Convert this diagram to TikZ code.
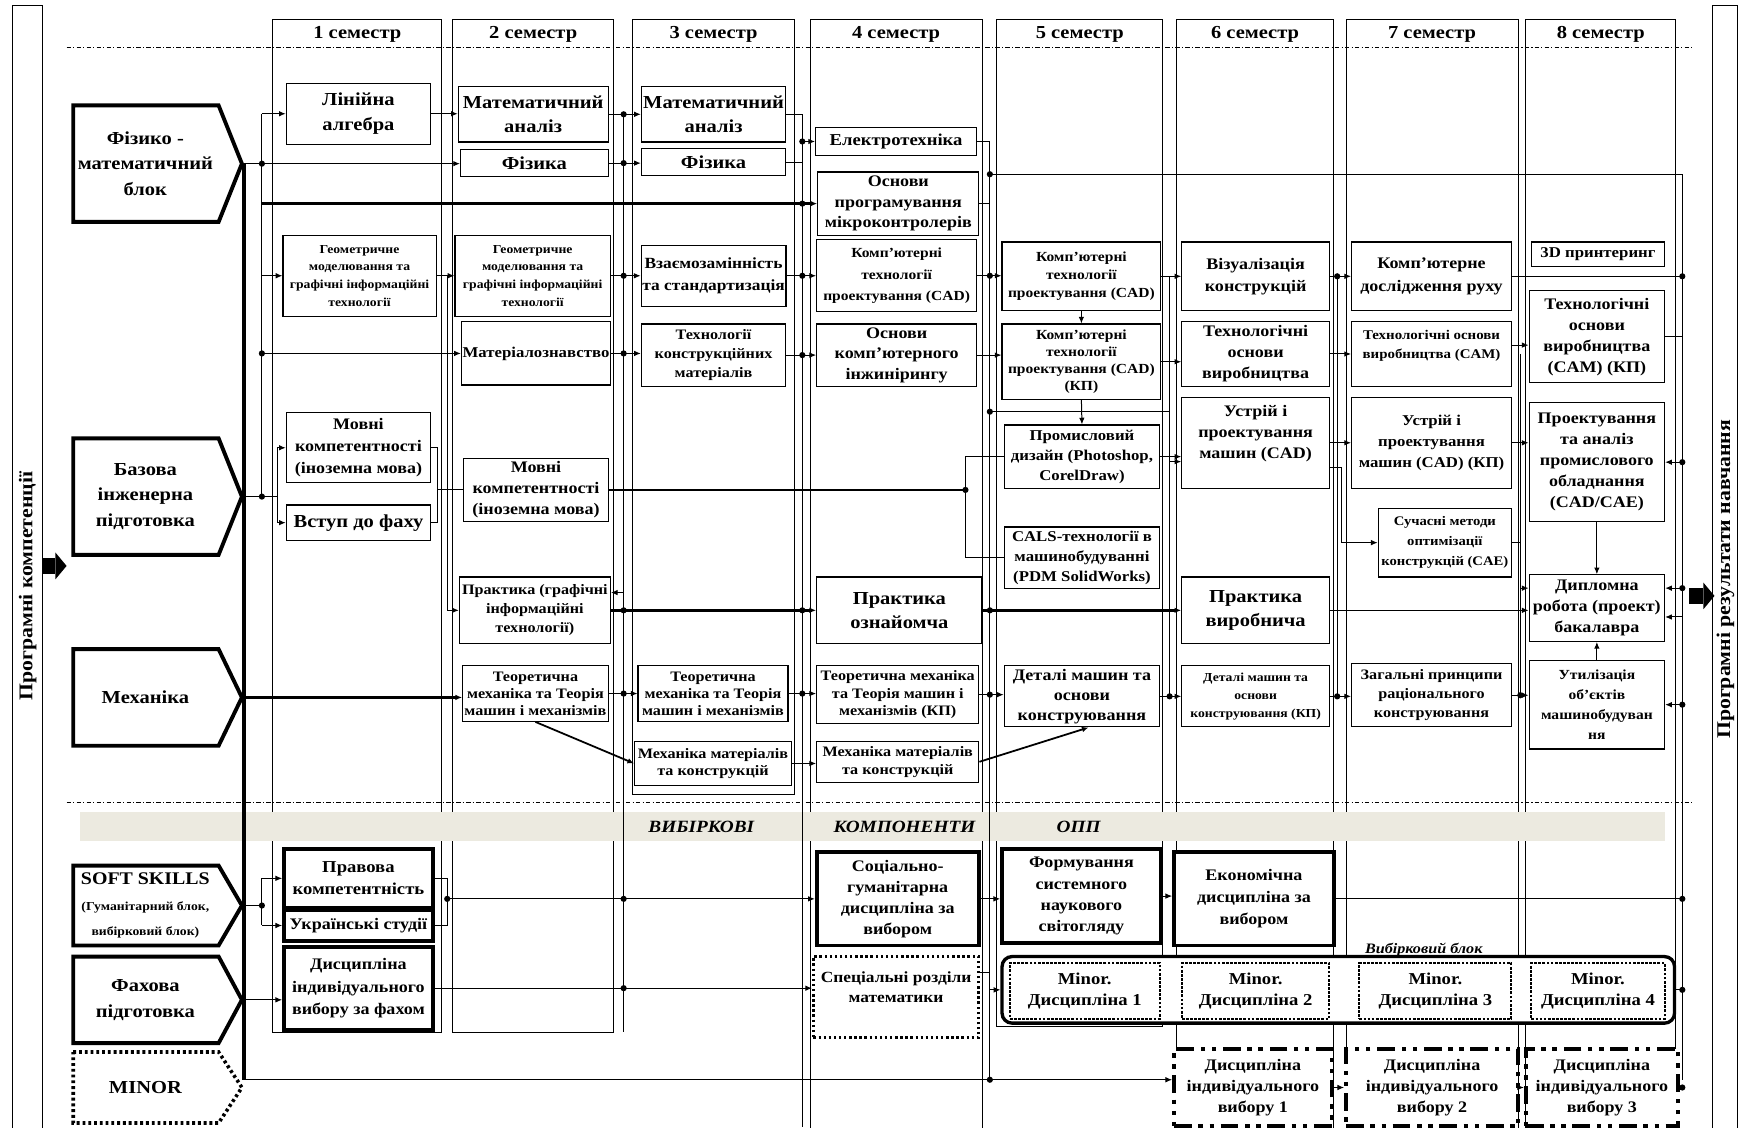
\documentclass[tikz,border=0pt]{standalone}
\usepackage{fontspec}
\setmainfont{Liberation Serif}[FakeStretch=1.12]
\usetikzlibrary{arrows.meta}
\definecolor{bandc}{RGB}{236,234,224}
\newcommand\myfs[2]{\fontsize{#1}{#2}\selectfont\bfseries}
\newcommand\bx[7]{%
 \pgfmathsetmacro\mybw{#4-#2}%
 \pgfmathsetmacro\mybh{#5-#3}%
 \pgfmathsetmacro\mycx{(#2+#4)/2}%
 \pgfmathsetmacro\mycy{(#3+#5)/2}%
 \node[bx,minimum width=\mybw pt,minimum height=\mybh pt,#6] (#1) at (\mycx,\mycy) {#7};}
\newcommand\lblk[5]{%
 \pgfmathsetmacro\mycy{(#2+#3)/2}%
 \draw[#4] (66,#2) -- (197,#2) -- (218,\mycy) -- (197,#3) -- (66,#3) -- cycle;
 \node[align=center,inner sep=0pt,font=\myfs{16.5}{23}] (#1) at (131,\mycy) {#5};
 \coordinate (#1T) at (218,\mycy);}
\newcommand\jd[1]{\fill (#1) circle (2.8pt);}
\begin{document}
\begin{tikzpicture}[x=1pt,y=-1pt,
 bx/.style={draw,fill=white,line width=1.1pt,inner sep=1pt,align=center,font=\myfs{14.5}{19}},
 thk/.style={line width=3.5pt},
 dotb/.style={line width=2.6pt,dash pattern=on 2.2pt off 2.4pt},
 mnb/.style={line width=1.8pt,dash pattern=on 2.5pt off 1.2pt,font=\myfs{15}{19}},
 ddb/.style={line width=3.5pt,dash pattern=on 16pt off 6pt on 4pt off 6pt on 4pt off 6pt,font=\myfs{14.5}{19}},
 lb/.style={line width=3.5pt,fill=white,line join=miter},
 lbdot/.style={line width=3.2pt,dash pattern=on 2.6pt off 2.6pt,fill=white},
 colf/.style={line width=0.9pt},
 sepl/.style={line width=0.8pt,dash pattern=on 4pt off 2pt on 1pt off 2pt},
 ln/.style={line width=0.9pt},
 lnm/.style={line width=1.6pt},
 tkl/.style={line width=2.2pt},
 arr/.style={-{Latex[length=6pt,width=5pt]}}]
\useasboundingbox (0,0) rectangle (1568,1016);
\fill[white] (0,0) rectangle (1568,1016);
% side bars
\draw[colf] (11,1020) -- (11,5) -- (38,5) -- (38,1020);
\draw[colf] (1543,1020) -- (1543,5) -- (1566,5) -- (1566,1020);
\node[rotate=90,font=\myfs{17.5}{19}] (lefttext) at (25,528) {Програмні компетенції};
\node[rotate=90,font=\myfs{17.5}{19}] (righttext) at (1555,522) {Програмні результати навчання};
\fill (38,503) rectangle (50,517);
\fill (50,498) -- (60,510) -- (50,522) -- cycle;
\fill (1522,530) rectangle (1535,544);
\fill (1535,525) -- (1545,537) -- (1535,549) -- cycle;
% columns
\draw[colf] (246,18) rectangle (398,930);
\draw[colf] (408,18) rectangle (553,930);
\draw[colf] (570,18) rectangle (716,716);
\draw[colf] (730,1020) -- (730,18) -- (885,18) -- (885,1020);
\draw[colf] (898,18) rectangle (1048,925);
\draw[colf] (1060,1020) -- (1060,18) -- (1202,18) -- (1202,1020);
\draw[colf] (1213,1020) -- (1213,18) -- (1368,18) -- (1368,1020);
\draw[colf] (1375,1020) -- (1375,18) -- (1510,18) -- (1510,1020);
\foreach \i/\cx in {1/322,2/480.5,3/643,4/807.5,5/973,6/1131,7/1290.5,8/1442.5}
  \node[font=\myfs{16.5}{18}] (h\i) at (\cx,31) {\i\ семестр};
\draw[sepl] (60,43) -- (1525,43);
\draw[sepl] (60,723) -- (1525,723);
\fill[bandc] (72,732) rectangle (1500,758);
\node[font=\myfs{15.5}{17}\itshape] (bt1) at (632,745) {ВИБІРКОВІ};
\node[font=\myfs{15.5}{17}\itshape] (bt2) at (815,745) {КОМПОНЕНТИ};
\node[font=\myfs{15.5}{17}\itshape] (bt3) at (972,745) {ОПП};
% bus coordinates
\coordinate (B0) at (236,0); \coordinate (BT) at (220,0); \coordinate (B1) at (403,0);
\coordinate (B2) at (562,0); \coordinate (B3) at (723,0); \coordinate (B4) at (892,0);
\coordinate (B5) at (1054,0); \coordinate (B6) at (1205,0); \coordinate (B6b) at (1209,0);
\coordinate (B7) at (1370,0); \coordinate (B8) at (1516,0);
\coordinate (BR1) at (250,0); \coordinate (BR2) at (394,0); \coordinate (BR3) at (403,0);
\coordinate (J870) at (870,0);
\coordinate (R157) at (0,157); \coordinate (R371) at (0,371); \coordinate (R530) at (0,530);
\coordinate (R930) at (0,930); \coordinate (R1016) at (0,1016);
% left blocks
\lblk{fiz}{95}{200}{lb}{Фізико -\\математичний\\блок}
\lblk{baz}{395}{500}{lb}{Базова\\інженерна\\підготовка}
\lblk{meh}{585}{672}{lb}{Механіка}
\lblk{ss}{780}{852}{lb}{{\myfs{16}{18}SOFT SKILLS}\\{\myfs{11}{13}(Гуманітарний блок,}\\{\myfs{11}{13}вибірковий блок)}}
\lblk{fah}{862}{940}{lb}{Фахова\\підготовка}
\lblk{mnr}{948}{1012}{lbdot}{MINOR}
\coordinate (mnrL) at (220,973);
% column 1
\bx{la}{258}{75}{388}{130}{font=\myfs{16.5}{22}}{Лінійна\\алгебра}
\bx{gm1}{255}{212}{393}{285}{font=\myfs{11}{16}}{Геометричне\\моделювання та\\графічні інформаційні\\технології}
\bx{mk1}{258}{372}{388}{435}{font=\myfs{14.5}{20}}{Мовні\\компетентності\\(іноземна мова)}
\bx{vf}{258}{455}{388}{487}{font=\myfs{16.5}{20}}{Вступ до фаху}
\bx{pk}{256}{765}{390}{818}{thk,font=\myfs{15}{20}}{Правова\\компетентність}
\bx{us}{256}{820}{390}{848}{thk,font=\myfs{14.5}{18}}{Українські студії}
\bx{dif}{256}{853}{390}{928}{thk,font=\myfs{14.5}{20}}{Дисципліна\\індивідуального\\вибору за фахом}
% column 2
\bx{ma2}{413}{78}{548}{128}{font=\myfs{16.5}{22}}{Математичний\\аналіз}
\bx{fz2}{415}{135}{548}{159}{font=\myfs{16.5}{18}}{Фізика}
\bx{gm2}{410}{212}{550}{285}{font=\myfs{11}{16}}{Геометричне\\моделювання та\\графічні інформаційні\\технології}
\bx{mz}{418}{290}{548}{347}{font=\myfs{13.5}{16}}{Матеріалознавство}
\bx{mk2}{418}{413}{548}{470}{font=\myfs{14.5}{19}}{Мовні\\компетентності\\(іноземна мова)}
\bx{pr2}{414}{520}{550}{580}{font=\myfs{13}{17}}{Практика (графічні\\інформаційні\\технології)}
\bx{tm2}{417}{600}{548}{650}{font=\myfs{13}{15.5}}{Теоретична\\механіка та Теорія\\машин і механізмів}
% column 3
\bx{ma3}{578}{78}{708}{128}{font=\myfs{16.5}{22}}{Математичний\\аналіз}
\bx{fz3}{578}{134}{708}{158}{font=\myfs{16.5}{18}}{Фізика}
\bx{vs}{578}{221}{708}{276}{font=\myfs{14}{19}}{Взаємозамінність\\та стандартизація}
\bx{tk}{578}{292}{708}{348}{font=\myfs{13}{17}}{Технології\\конструкційних\\матеріалів}
\bx{tm3}{575}{600}{710}{650}{font=\myfs{13}{15.5}}{Теоретична\\механіка та Теорія\\машин і механізмів}
\bx{mm3}{572}{668}{713}{708}{font=\myfs{13}{16}}{Механіка матеріалів\\та конструкцій}
% column 4
\bx{et}{735}{115}{880}{140}{font=\myfs{15}{17}}{Електротехніка}
\bx{op}{737}{155}{882}{212}{font=\myfs{14.5}{18.5}}{Основи\\програмування\\мікроконтролерів}
\bx{cad4}{736}{216}{880}{281}{font=\myfs{12.5}{19}}{Комп'ютерні\\технології\\проектування (CAD)}
\bx{oki}{736}{292}{880}{348}{font=\myfs{14.5}{18.5}}{Основи\\комп'ютерного\\інжинірингу}
\bx{po}{736}{520}{885}{580}{font=\myfs{16.5}{22}}{Практика\\ознайомча}
\bx{tm4}{736}{600}{882}{652}{font=\myfs{13}{16}}{Теоретична механіка\\та Теорія машин і\\механізмів (КП)}
\bx{mm4}{736}{668}{882}{705}{font=\myfs{13}{16}}{Механіка матеріалів\\та конструкцій}
\bx{sg}{736}{768}{882}{852}{thk,font=\myfs{14.5}{19}}{Соціально-\\гуманітарна\\дисципліна за\\вибором}
\bx{sr}{733}{862}{882}{935}{dotb,font=\myfs{14}{18}}{Спеціальні розділи\\математики\\\mbox{}}
% column 5
\bx{cad5}{903}{218}{1046}{280}{font=\myfs{12.5}{16.5}}{Комп'ютерні\\технології\\проектування (CAD)}
\bx{cadkp}{903}{292}{1046}{360}{font=\myfs{12.5}{15.5}}{Комп'ютерні\\технології\\проектування (CAD)\\(КП)}
\bx{pd}{905}{383}{1045}{440}{font=\myfs{13.5}{18}}{Промисловий\\дизайн (Photoshop,\\CorelDraw)}
\bx{cals}{905}{475}{1045}{530}{font=\myfs{13.5}{18}}{CALS-технології в\\машинобудуванні\\(PDM SolidWorks)}
\bx{dm5}{905}{600}{1045}{655}{font=\myfs{14.5}{18}}{Деталі машин та\\основи\\конструювання}
\bx{fsv}{903}{765}{1046}{850}{thk,font=\myfs{14.5}{19}}{Формування\\системного\\наукового\\світогляду}
% column 6
\bx{viz}{1065}{218}{1198}{280}{font=\myfs{14.5}{20}}{Візуалізація\\конструкцій}
\bx{to6}{1065}{290}{1198}{348}{font=\myfs{14.5}{19}}{Технологічні\\основи\\виробництва}
\bx{ust6}{1065}{358}{1198}{440}{font=\myfs{14.5}{19}}{Устрій і\\проектування\\машин (CAD)\\\mbox{}}
\bx{pv}{1065}{520}{1198}{580}{font=\myfs{16.5}{22}}{Практика\\виробнича}
\bx{dm6}{1065}{600}{1198}{655}{font=\myfs{11}{16}}{Деталі машин та\\основи\\конструювання (КП)}
\bx{ed}{1058}{768}{1202}{852}{thk,font=\myfs{14.5}{20}}{Економічна\\дисципліна за\\вибором}
\bx{div1}{1058}{945}{1200}{1015}{ddb}{Дисципліна\\індивідуального\\вибору 1}
% column 7
\bx{kdr}{1218}{218}{1362}{280}{font=\myfs{14.5}{20}}{Комп'ютерне\\дослідження руху}
\bx{to7}{1218}{290}{1362}{348}{font=\myfs{12}{17}}{Технологічні основи\\виробництва (CAM)\\\mbox{}}
\bx{ust7}{1218}{358}{1362}{440}{font=\myfs{13.5}{19}}{Устрій і\\проектування\\машин (CAD) (КП)}
\bx{sm}{1242}{458}{1362}{520}{font=\myfs{11.8}{18}}{Сучасні методи\\оптимізації\\конструкцій (CAE)}
\bx{zp}{1218}{598}{1362}{655}{font=\myfs{13}{17}}{Загальні принципи\\раціонального\\конструювання}
\bx{div2}{1213}{945}{1368}{1015}{ddb}{Дисципліна\\індивідуального\\вибору 2}
% column 8
\bx{dp}{1380}{218}{1500}{240}{font=\myfs{13.5}{16}}{3D принтеринг}
\bx{to8}{1378}{262}{1500}{345}{font=\myfs{14.5}{19}}{Технологічні\\основи\\виробництва\\(CAM) (КП)}
\bx{pa}{1378}{363}{1500}{470}{font=\myfs{14.5}{19}}{Проектування\\та аналіз\\промислового\\обладнання\\(CAD/CAE)}
\bx{dr}{1378}{518}{1500}{578}{font=\myfs{14.5}{19}}{Дипломна\\робота (проект)\\бакалавра}
\bx{ut}{1378}{595}{1500}{675}{font=\myfs{12.5}{18}}{Утилізація\\об'єктів\\машинобудуван\\ня}
\bx{div3}{1375}{945}{1512}{1015}{ddb}{Дисципліна\\індивідуального\\вибору 3}
% elective block
\node[draw,fill=white,line width=3pt,rounded corners=9pt,minimum width=606pt,minimum height=60pt] (vb) at (1206,892) {};
\node[font=\myfs{13}{15}\itshape] (vbl) at (1283,856) {Вибірковий блок};
\bx{mn1}{910}{868}{1045}{918}{mnb}{Minor.\\Дисципліна 1}
\bx{mn2}{1065}{868}{1198}{918}{mnb}{Minor.\\Дисципліна 2}
\bx{mn3}{1225}{868}{1362}{918}{mnb}{Minor.\\Дисципліна 3}
\bx{mn4}{1380}{868}{1500}{918}{mnb}{Minor.\\Дисципліна 4}
% ===== connectors =====
% buses
\draw[line width=3pt] (BT |- fizT) -- (mnrL);
\draw[ln] (B0 |- la.west) -- (B0 |- bazT);
\draw[ln] (B2 |- ma2.east) -- (B2 |- R930);
\draw[ln] (B3 |- ma3.east) -- (B3 |- R1016);
\draw[ln] (B4 |- et.east) -- (B4 |- mnrL);
\draw[ln] (B5 |- cad5.east) -- (B5 |- dm5.east);
\draw[ln] (B6 |- viz.east) -- (B6 |- dm6.east);
\draw[ln] (B7 |- to7.east) -- (B7 |- zp.east);
\draw[ln] (B8 |- R157) -- (B8 |- mnrL);
% physics-math
\draw[ln,arr] (B0 |- la.west) -- (la.west);
\draw[ln,arr] (fizT) -- (fizT -| fz2.west);
\draw[tkl,arr] (B0 |- op.west) -- (op.west);
\draw[ln,arr] (la.east) -- (la.east -| ma2.west);
\draw[ln,arr] (ma2.east) -- (ma2.east -| ma3.west);
\draw[ln,arr] (fz2.east) -- (fz2.east -| fz3.west);
\draw[ln] (ma3.east) -| (B3 |- et.west);
\draw[ln] (fz3.east) -| (B3 |- et.west);
\draw[ln,arr] (B3 |- et.west) -- (et.west);
\draw[ln] (et.east) -| (B4 |- R157);
\draw[ln] (op.east) -| (B4 |- R157);
\draw[ln] (B4 |- R157) -- (B8 |- R157);
% geometry row
\draw[ln,arr] (B0 |- gm1.west) -- (gm1.west);
\draw[ln,arr] (gm1.east) -- (gm1.east -| gm2.west);
\draw[ln,arr] (gm1.east -| B1) -- (pr2.west -| B1) -- (pr2.west);
\draw[ln,arr] (gm2.east) -- (gm2.east -| vs.west);
\draw[ln,arr] (vs.east) -- (vs.east -| cad4.west);
\draw[ln,arr] (cad4.east) -- (cad4.east -| cad5.west);
\draw[ln,arr] (cad5.east) -- (cad5.east -| viz.west);
\draw[ln,arr] (viz.east) -- (viz.east -| kdr.west);
\draw[ln] (kdr.east) -- (kdr.east -| B8);
% materials row
\draw[ln,arr] (B0 |- mz.west) -- (mz.west);
\draw[ln,arr] (mz.east) -- (mz.east -| tk.west);
\draw[ln,arr] (tk.east) -- (tk.east -| oki.west);
\draw[ln,arr] (oki.east) -- (oki.east -| cadkp.west);
\draw[ln,arr] (cad5.south) -- (cadkp.north);
\draw[ln,arr] (cadkp.south) -- (pd.north);
\draw[ln] (B4 |- R371) -- (B5 |- R371);
\draw[ln,arr] (cadkp.east) -- (cadkp.east -| to6.west);
\draw[ln,arr] (to6.east) -- (to6.east -| to7.west);
\draw[ln,arr] ([yshift=8pt]to7.east) -- ([yshift=8pt]to7.east -| to8.west);
\draw[ln] (to8.east) -- (to8.east -| B8);
% language row
\draw[ln] (bazT) -- (bazT -| BR1);
\draw[ln] (mk1.west -| BR1) -- (vf.west -| BR1);
\draw[ln,arr] (mk1.west -| BR1) -- (mk1.west);
\draw[ln,arr] (vf.west -| BR1) -- (vf.west);
\draw[ln] (mk1.east) -| (vf.east -| BR2) -- (vf.east);
\draw[ln] (mk2.west -| BR2) -- (mk2.west);
\draw[tkl] (mk2.east) -- (mk2.east -| J870);
\draw[ln] (pd.west) -| (cals.west -| J870) -- (cals.west);
% practice row
\draw[ln,arr] ([yshift=16pt]pr2.east -| B2) -- ([yshift=16pt]pr2.east);
\draw[tkl,arr] (pr2.east) -- (pr2.east -| po.west);
\draw[tkl,arr] (po.east) -- (po.east -| pv.west);
\draw[ln,arr] (pv.east) -- (pv.east -| dr.west);
% mechanics row
\draw[tkl,arr] (mehT) -- (mehT -| tm2.west);
\draw[ln,arr] (tm2.east) -- (tm2.east -| tm3.west);
\draw[ln,arr] (tm3.east) -- (tm3.east -| tm4.west);
\draw[ln,arr] (tm4.east) -- (tm4.east -| dm5.west);
\draw[ln,arr] (dm5.east) -- (dm5.east -| dm6.west);
\draw[ln,arr] (dm6.east) -- (dm6.east -| zp.west);
\draw[ln,arr] (zp.east) -- (zp.east -| ut.west);
\draw[ln,arr] (ut.east -| B8) -- (ut.east);
\draw[lnm,arr] (tm2.south) -- (mm3.west);
\draw[ln,arr] (mm3.east) -- (mm3.east -| mm4.west);
\draw[lnm,arr] (mm4.east) -- ([xshift=6pt]dm5.south);
% design / machines
\draw[ln,arr] (pd.east) -- (pd.east -| ust6.west);
\draw[ln,arr] ([yshift=-17pt]ust6.west -| B5) -- ([yshift=-17pt]ust6.west);
\draw[ln,arr] (ust6.east) -- (ust6.east -| ust7.west);
\draw[ln,arr] ([yshift=-22pt]ust6.east) -| (B6b |- sm.west) -- (sm.west);
\draw[ln,arr] (ust7.east) -- (ust7.east -| pa.west);
\draw[ln,arr] (sm.east) -| (B7 |- R530) -- (R530 -| dr.west);
\draw[ln,arr] (pa.south) -- (dr.north);
\draw[ln,arr] (ut.north) -- (dr.south);
\draw[ln,arr] (B8 |- pa.east) -- (pa.east);
\draw[ln,arr] (B8 |- R530) -- (R530 -| dr.east);
\draw[ln,arr] ([yshift=-8pt]dr.east -| B8) -- ([yshift=-8pt]dr.east);
% soft skills / electives
\draw[ln] (ssT) -- (ssT -| B0);
\draw[ln] (pk.west -| B0) -- (us.west -| B0);
\draw[ln,arr] (pk.west -| B0) -- (pk.west);
\draw[ln,arr] (us.west -| B0) -- (us.west);
\draw[ln] (pk.east) -| (us.east -| BR3) -- (us.east);
\draw[ln,arr] (sg.west -| BR3) -- (sg.west);
\draw[ln,arr] (sg.east) -- (sg.east -| fsv.west);
\draw[ln,arr] (fsv.east) -- (fsv.east -| ed.west);
\draw[ln] (ed.east) -- (ed.east -| B8);
\draw[ln,arr] (fahT) -- (fahT -| dif.west);
\draw[ln,arr] (dif.east) -- (dif.east -| sr.west);
\draw[ln] ([yshift=22pt]sr.east) -- ([yshift=22pt]sr.east -| B4);
\draw[ln,arr] (vb.west -| B4) -- (vb.west);
\draw[ln] (vb.east) -- (vb.east -| B8);
\draw[ln,arr] (mnrL) -- (mnrL -| div1.west);
\draw[ln,arr] (div1.east) -- (div1.east -| div2.west);
\draw[ln,arr] (div2.east) -- (div2.east -| div3.west);
\draw[ln] (div3.east) -- (div3.east -| B8);
% junction dots
\jd{B0 |- fizT} \jd{B0 |- mz.west} \jd{B0 |- bazT} \jd{B0 |- ssT}
\jd{B2 |- ma2.east} \jd{B2 |- fz2.east} \jd{B2 |- gm2.east} \jd{B2 |- mz.east}
\jd{B2 |- pr2.east} \jd{B2 |- tm2.east} \jd{B2 |- sg.west} \jd{B2 |- dif.east}
\jd{B3 |- et.west} \jd{B3 |- op.west} \jd{B3 |- vs.east} \jd{B3 |- tk.east}
\jd{B3 |- pr2.east} \jd{B3 |- tm3.east}
\jd{B4 |- R157} \jd{B4 |- cad4.east} \jd{B4 |- R371} \jd{B4 |- po.east} \jd{B4 |- tm4.east} \jd{B4 |- mnrL}
\jd{B5 |- dm5.east} \jd{B6 |- viz.east} \jd{B6 |- dm6.east} \jd{B7 |- zp.east}
\jd{B8 |- kdr.east} \jd{B8 |- pa.east} \jd{B8 |- R530} \jd{B8 |- ut.east} \jd{B8 |- ed.east}
\jd{B8 |- vb.east} \jd{B8 |- div3.east}
\jd{J870 |- mk2.east} \jd{BR3 |- sg.west}
\end{tikzpicture}
\end{document}
